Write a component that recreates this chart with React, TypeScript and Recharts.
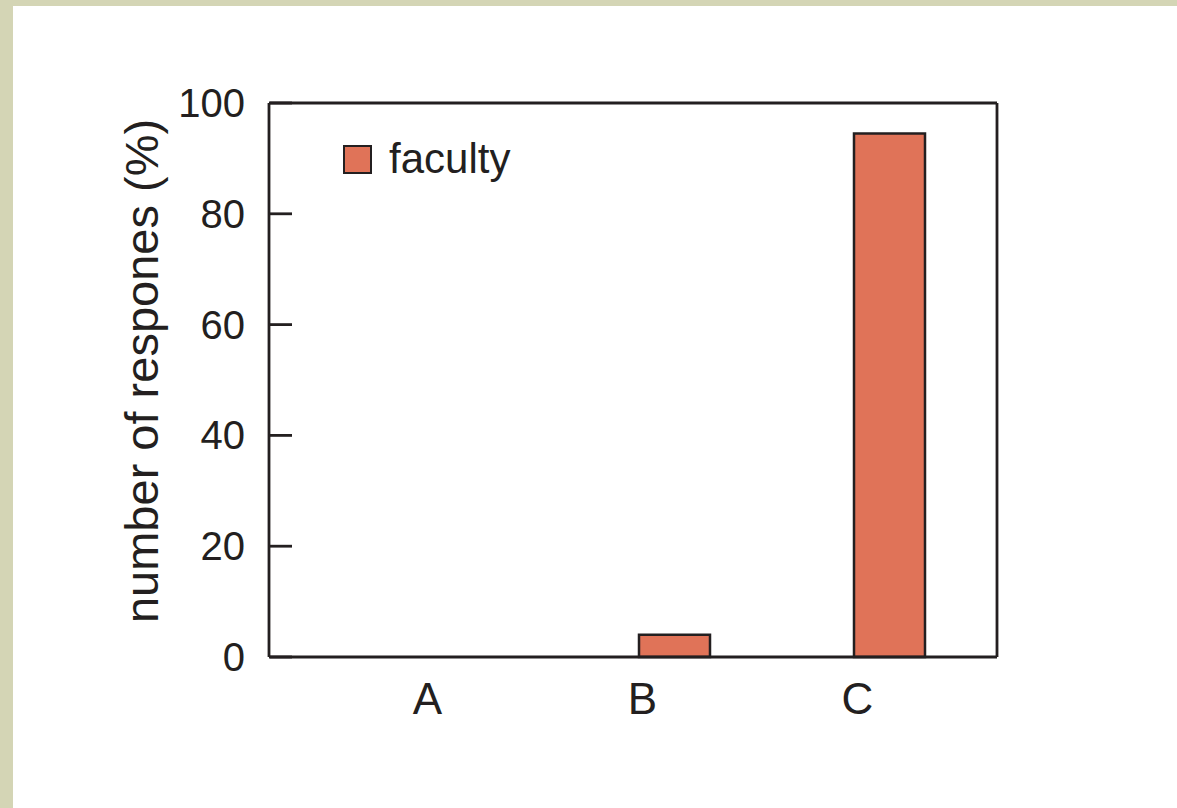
import { Bar, BarChart, Legend, XAxis, YAxis } from "recharts";

const categories = ["A", "B", "C"];
const facultyValues = [0, 4, 94.5];
const yTicks = [0, 20, 40, 60, 80, 100];
const seriesName = "faculty";
const yTitle = "number of respones (%)";

const data = categories.map((name, i) => ({ name, faculty: facultyValues[i] }));

const INK = "#231f20";
const BAR_FILL = "#e07358";
const FONT = "'Liberation Sans', Arial, Helvetica, sans-serif";
const LINE_W = 2.8;

function YTick({ x, y, payload }: any) {
  return (
    <g>
      <line x1={x + 1} x2={x + 23} y1={y} y2={y} stroke={INK} strokeWidth={LINE_W} />
      <text
        x={x - 24}
        y={y}
        dy="0.35em"
        textAnchor="end"
        fontSize={40}
        fontFamily={FONT}
        fill={INK}
      >
        {payload.value}
      </text>
    </g>
  );
}

function XTick({ x, y, payload }: any) {
  return (
    <text
      x={x - 32}
      y={y + 26}
      dy="0.71em"
      textAnchor="middle"
      fontSize={44}
      fontFamily={FONT}
      fill={INK}
    >
      {payload.value}
    </text>
  );
}

function LegendBox() {
  return (
    <div style={{ display: "flex", alignItems: "center", fontFamily: FONT }}>
      <span
        style={{
          display: "inline-block",
          width: 25,
          height: 25,
          background: BAR_FILL,
          border: `2.5px solid ${INK}`,
          marginRight: 17,
        }}
      />
      <span style={{ fontSize: 42, color: INK, lineHeight: 1 }}>{seriesName}</span>
    </div>
  );
}

export default function App() {
  return (
    <div
      style={{
        position: "fixed",
        left: 0,
        top: 0,
        width: 1177,
        height: 808,
        background: "#d4d5b5",
      }}
    >
      <div
        style={{
          position: "absolute",
          left: 13,
          top: 6,
          width: 1164,
          height: 802,
          background: "#ffffff",
        }}
      >
        <BarChart
          width={1164}
          height={802}
          data={data}
          margin={{ top: 96, right: 179, bottom: 91, left: 196 }}
        >
          <XAxis
            dataKey="name"
            height={60}
            padding={{ left: 83, right: 0 }}
            axisLine={{ stroke: INK, strokeWidth: LINE_W }}
            tickLine={false}
            tickSize={0}
            tickMargin={0}
            tick={<XTick />}
          />
          <XAxis
            xAxisId="top"
            orientation="top"
            dataKey="name"
            height={1}
            axisLine={{ stroke: INK, strokeWidth: LINE_W }}
            tickLine={false}
            tick={false}
          />
          <YAxis
            width={60}
            domain={[0, 100]}
            ticks={yTicks}
            interval={0}
            axisLine={{ stroke: INK, strokeWidth: LINE_W }}
            tickLine={false}
            tickSize={0}
            tickMargin={0}
            tick={<YTick />}
            label={{
              content: ({ viewBox }: any) => {
                const cx = viewBox.x - 68;
                const cy = viewBox.y + viewBox.height / 2 - 9;
                return (
                  <text
                    x={cx}
                    y={cy}
                    transform={`rotate(-90 ${cx} ${cy})`}
                    textAnchor="middle"
                    dominantBaseline="central"
                    fontSize={47}
                    fontFamily={FONT}
                    fill={INK}
                  >
                    {yTitle}
                  </text>
                );
              },
            }}
          />
          <YAxis
            yAxisId="right"
            orientation="right"
            width={1}
            domain={[0, 100]}
            axisLine={{ stroke: INK, strokeWidth: LINE_W }}
            tickLine={false}
            tick={false}
          />
          <Legend
            content={<LegendBox />}
            layout="horizontal"
            verticalAlign="middle"
            align="center"
            wrapperStyle={{ position: "absolute", left: 330, top: 132, width: "auto" }}
          />
          <Bar
            dataKey="faculty"
            name={seriesName}
            barSize={71}
            fill={BAR_FILL}
            stroke={INK}
            strokeWidth={2.5}
            isAnimationActive={false}
          />
        </BarChart>
      </div>
    </div>
  );
}
